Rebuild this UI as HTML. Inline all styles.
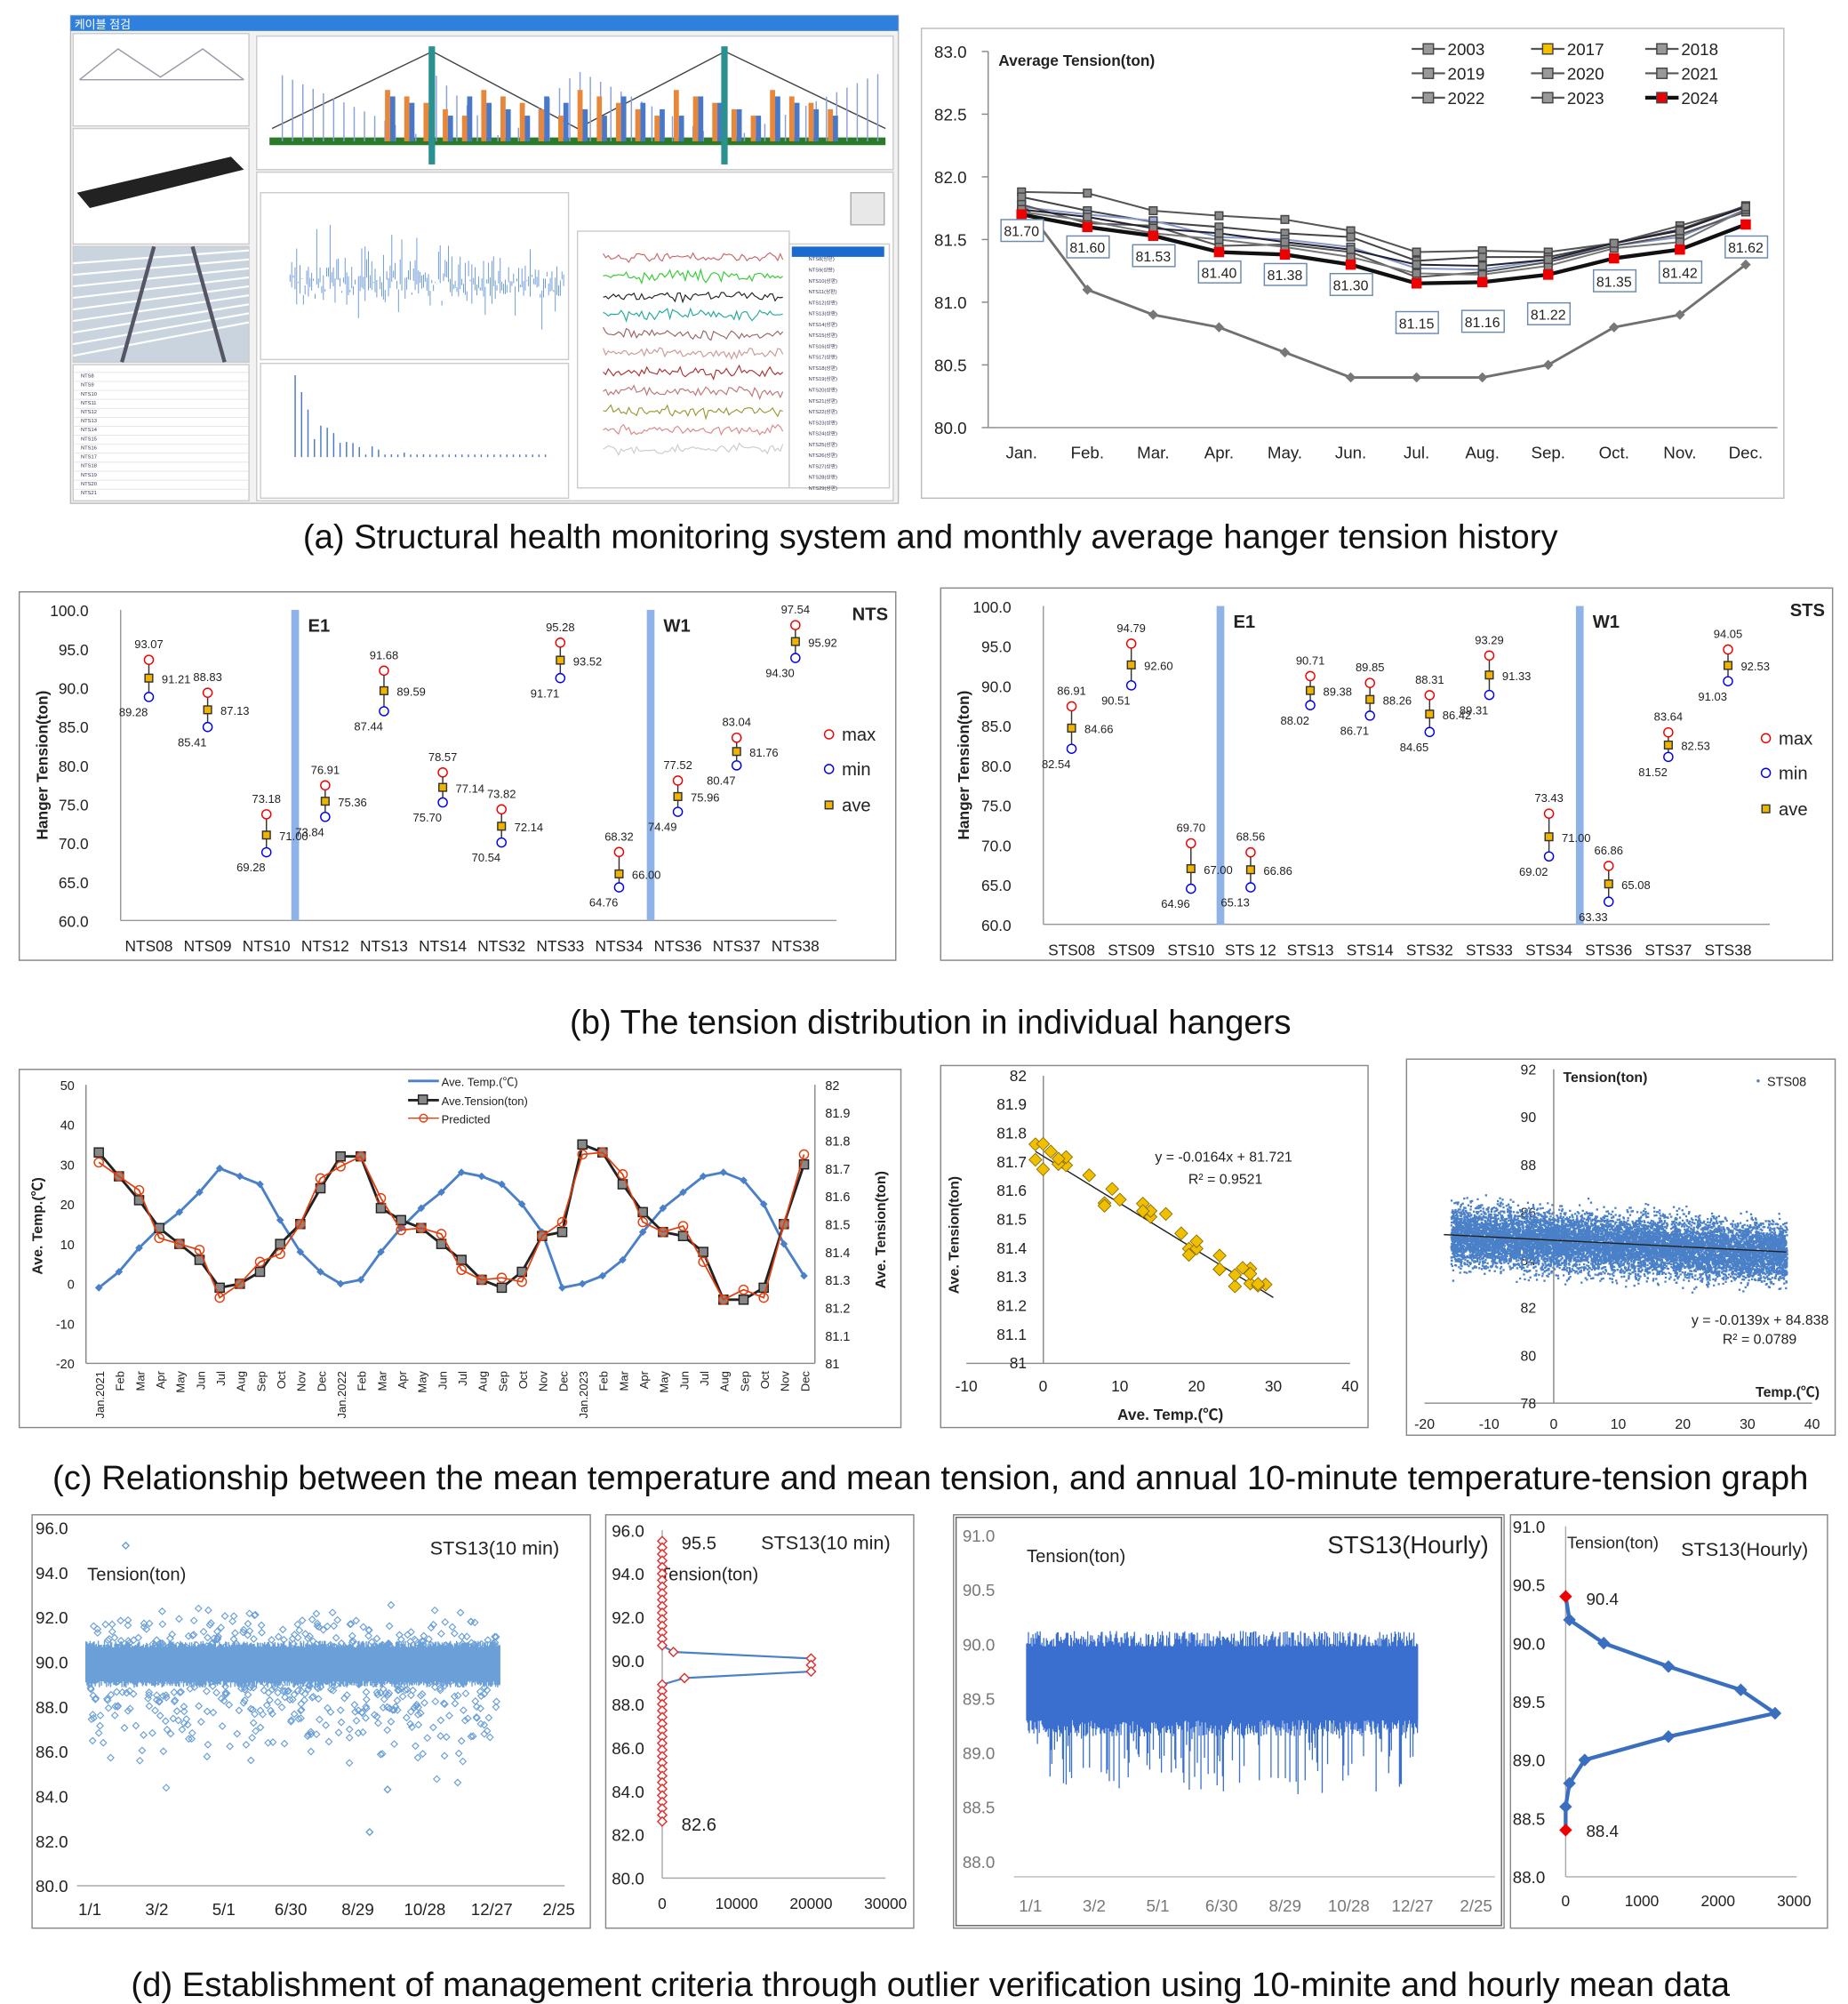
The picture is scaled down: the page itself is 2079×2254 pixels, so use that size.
<!DOCTYPE html>
<html><head><meta charset="utf-8"><style>
html,body{margin:0;padding:0;background:#fff;}
svg{display:block;font-family:"Liberation Sans","Noto Sans CJK KR",sans-serif;}
</style></head><body>
<svg id="s" width="2079" height="2254" viewBox="0 0 1440 1561" xmlns="http://www.w3.org/2000/svg">
<rect width="1440" height="1561" fill="#fff"/>
</svg>
<script>
const S=document.getElementById('s');const NS='http://www.w3.org/2000/svg';
function E(t,a,txt){const e=document.createElementNS(NS,t);for(const k in a)e.setAttribute(k,a[k]);if(txt!==undefined)e.textContent=txt;S.appendChild(e);return e;}
function T(x,y,s,sz,o){o=o||{};return E('text',Object.assign({x:x,y:y,'font-size':sz||12,fill:'#222'},o),s);}
function L(x1,y1,x2,y2,c,w,o){return E('line',Object.assign({x1,y1,x2,y2,stroke:c||'#444','stroke-width':w||1},o||{}));}
function R(x,y,w,h,f,s,o){return E('rect',Object.assign({x,y,width:w,height:h,fill:f||'none',stroke:s||'none'},o||{}));}
function P(pts,c,w,o){return E('polyline',Object.assign({points:pts.map(p=>p.join(',')).join(' '),fill:'none',stroke:c,'stroke-width':w||1},o||{}));}
let seed=7;function rnd(){seed=(seed*16807)%2147483647;return seed/2147483647;}
function gauss(){return (rnd()+rnd()+rnd()+rnd()-2)/0.58;}

/* ===== (a) left screenshot ===== */
R(55,12,645,380,'#f2f2f2','#bbb');
R(55,12,645,12,'#2f7fdc');T(58,22,'케이블 점검',9,{fill:'#fff'});
R(57,26,137,72,'#fff','#ccc');R(57,100,137,90,'#fff','#ccc');R(57,192,137,90,'#c9d4de','#ccc');
P([[62,62],[92,38],[125,60],[158,38],[190,62]],'#99a',1);L(62,62,190,62,'#99a',1);
for(let i=0;i<9;i++)L(57,205+i*9,194,195+i*7,'#fff',1.5);
L(120,192,95,282,'#556',3);L(150,192,175,282,'#556',3);
E('polygon',{points:'60,150 180,122 190,132 70,162',fill:'#222'});
R(57,284,137,106,'#fff','#ccc');
for(let i=0;i<14;i++){L(57,290+i*7,194,290+i*7,'#ddd',0.5);T(63,294+i*7,'NTS'+(8+i),4,{fill:'#335'});}
R(200,28,496,104,'#fff','#ccc');
L(210,110,690,110,'#2a7a2a',6);
P([[212,100],[337,40],[450,100],[565,40],[690,100]],'#444',1);
for(let x=220;x<690;x+=8){const h=(x<337?(337-x)/125:x<450?Math.abs(x-393)/57:x<565?(565-x)/115:(x-565)/125);L(x,110,x,110-55*h,'#8aa0d8',1);}
for(let i=0;i<24;i++){const x=300+i*15;if(x>335&&x<340)continue;R(x,70+(i%5)*5,4,40-(i%5)*5,'#e8873a');R(x+4,75+(i%4)*5,4,35-(i%4)*5,'#4a78c8');}
R(334,36,5,92,'#2a9090');R(562,36,5,92,'#2a9090');
R(200,134,496,256,'#fff','#ccc');
R(203,150,240,130,'#fff','#ccc');R(203,283,240,105,'#fff','#ccc');
for(let x=226;x<440;x+=1.3){const a=10+rnd()*22;L(x,215-a*gauss()*0.5,x,215+a*rnd()*0.8,'#5b8ed4',0.6);}
for(let i=0;i<40;i++){const x=230+i*5;L(x,356,x,356-Math.max(2,70*Math.exp(-i/6)*rnd()),'#4a78c8',1);}
R(450,180,165,200,'#fff','#ccc');R(615,190,78,190,'#fff','#ccc');R(617,192,72,8,'#1a6ad0');
const cc=['#c66','#3c3','#222','#2a9','#966','#c99','#a33','#b77','#993','#d88','#ccc'];
for(let k=0;k<11;k++){const pts=[];for(let x=470;x<612;x+=2)pts.push([x,200+k*15+gauss()*2]);P(pts,cc[k],0.8);}
for(let i=0;i<22;i++)T(630,203+i*8.5,'NTS'+(8+i)+'(상판)',4,{fill:'#335'});
R(663,150,26,25,'#e8e8e8','#aaa');

/* ===== (a) right chart ===== */
R(718,22,672,366,'#fff','#bbb');
L(770,40,770,333,'#888');L(770,333,1385,333,'#888');
const ay=v=>333-(v-80)/3*293, ax=i=>796+i*51.3;
for(let v=80;v<=83.01;v+=0.5){T(728,ay(v)+5,v.toFixed(1),13);L(765,ay(v),770,ay(v),'#888');}
['Jan.','Feb.','Mar.','Apr.','May.','Jun.','Jul.','Aug.','Sep.','Oct.','Nov.','Dec.'].forEach((m,i)=>T(ax(i),357,m,13,{'text-anchor':'middle'}));
T(778,51,'Average Tension(ton)',12,{'font-weight':'bold'});
const red=[81.70,81.60,81.53,81.40,81.38,81.30,81.15,81.16,81.22,81.35,81.42,81.62];
const gray=[81.8,81.1,80.9,80.8,80.6,80.4,80.4,80.4,80.5,80.8,80.9,81.3];
const offs=[[0.18,0.27,0.2,0.29,0.28,0.27,0.25,0.25,0.18,0.12,0.19,0.14],[0.14,0.13,0.11,0.2,0.17,0.22,0.18,0.2,0.14,0.12,0.16,0.15],[0.06,0.1,0.12,0.12,0.12,0.14,0.12,0.1,0.12,0.1,0.1,0.12],[0.08,0.03,0.08,0.05,0.08,0.1,0.05,0.08,0.1,0.1,0.12,0.1],[0.02,0.05,0.02,0.1,0.06,0.06,0.08,0.06,0.07,0.08,0.06,0.12],[0.04,0.08,0.06,0.15,0.1,0.12,0.15,0.13,0.12,0.12,0.15,0.14]];
const oc=['#555','#444','#8899cc','#555','#777','#223'];
P(gray.map((v,i)=>[ax(i),ay(v)]),'#707070',2);
gray.forEach((v,i)=>E('polygon',{points:`${ax(i)},${ay(v)-4} ${ax(i)+4},${ay(v)} ${ax(i)},${ay(v)+4} ${ax(i)-4},${ay(v)}`,fill:'#777'}));
offs.forEach((o,k)=>{const pts=red.map((v,i)=>[ax(i),ay(v+o[i])]);P(pts,oc[k],1.4);pts.forEach(p=>R(p[0]-3,p[1]-3,6,6,k==2?'#99aadd':'#888','#444'));});
P(red.map((v,i)=>[ax(i),ay(v)]),'#111',3);
red.forEach((v,i)=>{R(ax(i)-4,ay(v)-4,8,8,'#e00');const ly=ay(v)+(i==0?17:i<6?20:i<9?35:22);R(ax(i)-16,ly-13,33,17,'#fff','#6a8ab0');T(ax(i),ly,v.toFixed(2),11,{'text-anchor':'middle'});});
const lg=[['2003',1100,38],['2017',1193,38],['2018',1282,38],['2019',1100,57],['2020',1193,57],['2021',1282,57],['2022',1100,76],['2023',1193,76],['2024',1282,76]];
lg.forEach(([t,x,y],i)=>{L(x,y,x+26,y,i==8?'#111':'#555',i==8?3:1.5);R(x+9,y-4,8,8,i==8?'#e00':i==1?'#f5c000':'#999','#444');T(x+28,y+5,t,13);});

/* captions */
const cap=(y,s)=>T(725,y,s,26.5,{'text-anchor':'middle',fill:'#111'});
cap(427,'(a) Structural health monitoring system and monthly average hanger tension history');
cap(805,'(b) The tension distribution in individual hangers');
cap(1160,'(c) Relationship between the mean temperature and mean tension, and annual 10-minute temperature-tension graph');
cap(1555,'(d) Establishment of management criteria through outlier verification using 10-minite and hourly mean data');

/* ===== (b) ===== */
function hang(bx,by,bw,bh,x0,dx,y0,y1,names,data,bars,tag){
 R(bx,by,bw,bh,'#fff','#888');
 const yy=v=>y0-(v-60)/40*(y0-y1);
 L(x0-22,y1,x0-22,y0,'#999');L(x0-22,y0,x0+dx*11.7,y0,'#999');
 for(let v=60;v<=100;v+=5)T(x0-47,yy(v)+5,v.toFixed(1),12,{'text-anchor':'end'});
 T(bx+22,(y0+y1)/2,'Hanger Tension(ton)',12,{'font-weight':'bold',transform:`rotate(-90 ${bx+22} ${(y0+y1)/2})`,'text-anchor':'middle'});
 bars.forEach((b,i)=>{R(b-3,y1,6,y0-y1,'#8fb3e8');T(b+10,y1+17,i?'W1':'E1',14,{'font-weight':'bold'});});
 T(bx+bw-6,y1+8,tag,14,{'font-weight':'bold','text-anchor':'end'});
 names.forEach((n,i)=>{const x=x0+i*dx;T(x,y0+24,n,12,{'text-anchor':'middle'});
  const [mx,av,mn]=data[i];L(x,yy(mx),x,yy(mn),'#333');
  E('circle',{cx:x,cy:yy(mx)-3,r:3.5,fill:'#fff',stroke:'#e00'});E('circle',{cx:x,cy:yy(mn)+3,r:3.5,fill:'#fff',stroke:'#00e'});
  R(x-3,yy(av)-3,6,6,'#f0b400','#333');
  T(x,yy(mx)-12,mx.toFixed(2),9,{'text-anchor':'middle'});T(x+10,yy(av)+4,av.toFixed(2),9);T(x-12,yy(mn)+18,mn.toFixed(2),9,{'text-anchor':'middle'});});
 const lx=bx+bw-52;E('circle',{cx:lx,cy:y0-145,r:3.5,fill:'#fff',stroke:'#e00'});T(lx+10,y0-140,'max',14);
 E('circle',{cx:lx,cy:y0-118,r:3.5,fill:'#fff',stroke:'#00e'});T(lx+10,y0-113,'min',14);
 R(lx-3,y0-93,6,6,'#f0b400','#333');T(lx+10,y0-85,'ave',14);
}
hang(15,461,683,287,116,45.8,717,475,['NTS08','NTS09','NTS10','NTS12','NTS13','NTS14','NTS32','NTS33','NTS34','NTS36','NTS37','NTS38'],
[[93.07,91.21,89.28],[88.83,87.13,85.41],[73.18,71,69.28],[76.91,75.36,73.84],[91.68,89.59,87.44],[78.57,77.14,75.70],[73.82,72.14,70.54],[95.28,93.52,91.71],[68.32,66,64.76],[77.52,75.96,74.49],[83.04,81.76,80.47],[97.54,95.92,94.30]],[230,507],'NTS');
hang(733,458,695,290,835,46.5,720,472,['STS08','STS09','STS10','STS 12','STS13','STS14','STS32','STS33','STS34','STS36','STS37','STS38'],
[[86.91,84.66,82.54],[94.79,92.60,90.51],[69.70,67,64.96],[68.56,66.86,65.13],[90.71,89.38,88.02],[89.85,88.26,86.71],[88.31,86.42,84.65],[93.29,91.33,89.31],[73.43,71,69.02],[66.86,65.08,63.33],[83.64,82.53,81.52],[94.05,92.53,91.03]],[951,1231],'STS');

/* ===== (c1) ===== */
R(15,833,687,279,'#fff','#888');
const cy=v=>1062-(v+20)/70*217, cx=i=>77+i*15.7;
L(67,845,67,1062,'#888');L(635,845,635,1062,'#888');L(67,1062,635,1062,'#888');
for(let v=-20;v<=50;v+=10)T(58,cy(v)+4,v,10,{'text-anchor':'end'});
for(let k=0;k<=10;k++)T(643,1062-k*21.7+4,(81+k*0.1).toFixed(k%10?1:0),10);
T(33,955,'Ave. Temp.(℃)',11,{'font-weight':'bold',transform:'rotate(-90 33 955)','text-anchor':'middle'});
T(690,958,'Ave. Tension(ton)',11,{'font-weight':'bold',transform:'rotate(-90 690 958)','text-anchor':'middle'});
const mo=['Jan.2021','Feb','Mar','Apr','May','Jun','Jul','Aug','Sep','Oct','Nov','Dec'];
for(let i=0;i<36;i++){let m=mo[i%12];if(i==12)m='Jan.2022';if(i==24)m='Jan.2023';T(cx(i)+4,1068,m,9,{transform:`rotate(-90 ${cx(i)+4} 1068)`,'text-anchor':'end'});}
const temp=[-1,3,9,14,18,23,29,27,25,16,8,3,0,1,8,14,19,23,28,27,25,20,13,-1,0,2,6,13,19,23,27,28,26,20,10,2];
const ten=[33,27,21,14,10,6,-1,0,3,10,15,24,32,32,19,16,14,10,6,1,-1,3,12,13,35,33,25,18,13,12,8,-4,-4,-1,15,30];
const pre=ten.map((v,i)=>v+(i%3-1)*2.5);
P(temp.map((v,i)=>[cx(i),cy(v)]),'#4a80c8',2);temp.forEach((v,i)=>E('polygon',{points:`${cx(i)},${cy(v)-3} ${cx(i)+3},${cy(v)} ${cx(i)},${cy(v)+3} ${cx(i)-3},${cy(v)}`,fill:'#4a80c8'}));
P(ten.map((v,i)=>[cx(i),cy(v)]),'#222',2);ten.forEach((v,i)=>R(cx(i)-3.5,cy(v)-3.5,7,7,'#888','#222'));
P(pre.map((v,i)=>[cx(i),cy(v)]),'#e04010',1.2);pre.forEach((v,i)=>E('circle',{cx:cx(i),cy:cy(v),r:3.5,fill:'none',stroke:'#e04010'}));
L(318,842,342,842,'#4a80c8',2);T(344,846,'Ave. Temp.(℃)',9);
L(318,857,342,857,'#222',2);R(326,853,7,7,'#888','#222');T(344,861,'Ave.Tension(ton)',9);
L(318,871,342,871,'#e04010',1);E('circle',{cx:330,cy:871,r:3,fill:'none',stroke:'#e04010'});T(344,875,'Predicted',9);

/* ===== (c2) ===== */
R(733,830,333,282,'#fff','#888');
const sx=v=>753+(v+10)/50*299, sy=v=>1062-(v-81)*224;
L(813,838,813,1062,'#888');L(753,1062,1052,1062,'#888');
for(let k=0;k<=10;k++)T(800,sy(81+k*0.1)+4,(81+k*0.1).toFixed(k%10?1:0),12,{'text-anchor':'end'});
for(let v=-10;v<=40;v+=10)T(sx(v),1084,v,12,{'text-anchor':'middle'});
T(912,1106,'Ave. Temp.(℃)',12,{'font-weight':'bold','text-anchor':'middle'});
T(747,962,'Ave. Tension(ton)',11,{'font-weight':'bold',transform:'rotate(-90 747 962)','text-anchor':'middle'});
L(sx(-1),sy(81.737),sx(30),sy(81.229),'#222',1);
temp.forEach((t,i)=>{const v=81.721-0.0164*t+(ten[i]-pre[i])*0.004+gauss()*0.03;E('polygon',{points:`${sx(t)},${sy(v)-5} ${sx(t)+5},${sy(v)} ${sx(t)},${sy(v)+5} ${sx(t)-5},${sy(v)}`,fill:'#f0c000',stroke:'#8a6a00','stroke-width':0.6});});
T(900,905,'y = -0.0164x + 81.721',11);T(926,922,'R² = 0.9521',11);

/* ===== (c3) ===== */
R(1096,825,334,293,'#fff','#888');
const tx=v=>1110+(v+20)/60*302, ty=v=>1093-(v-78)/14*260;
L(tx(0),833,tx(0),1093,'#888');L(1110,1093,1412,1093,'#888');
for(let v=78;v<=92;v+=2)T(1197,ty(v)+4,v,11,{'text-anchor':'end'});
for(let v=-20;v<=40;v+=10)T(tx(v),1113,v,11,{'text-anchor':'middle'});
T(1218,843,'Tension(ton)',11,{'font-weight':'bold'});T(1368,1088,'Temp.(℃)',11,{'font-weight':'bold'});
E('circle',{cx:1370,cy:842,r:1.2,fill:'#4a80c8'});T(1377,846,'STS08',10);
let d='';for(let i=0;i<11000;i++){const t=-16+rnd()*52;const v=84.838-0.0139*t+gauss()*0.6;const x=tx(t),y=ty(v);d+=`M${x.toFixed(1)} ${y.toFixed(1)}h1.6v1.6h-1.6z`;}
E('path',{d:d,fill:'#4a80c8'});
L(tx(-17),ty(85.07),tx(36),ty(84.34),'#222',1);
T(1425,1032,'y = -0.0139x + 84.838',11,{'text-anchor':'end'});T(1400,1047,'R² = 0.0789',11,{'text-anchor':'end'});

/* ===== (d1) ===== */
R(25,1180,435,322,'#fff','#888');
const dy=v=>1469-(v-80)/16*279;
for(let v=80;v<=96;v+=2)T(53,dy(v)+5,v.toFixed(1),13,{'text-anchor':'end'});
['1/1','3/2','5/1','6/30','8/29','10/28','12/27','2/25'].forEach((s,i)=>T(70+i*52.2,1492,s,13,{'text-anchor':'middle'}));
L(60,1469,440,1469,'#aaa');
T(68,1231,'Tension(ton)',14);T(335,1211,'STS13(10  min)',15);
d='';for(let x=67;x<390;x+=0.8){const a=dy(89.9+0.75+rnd()*0.3),b=dy(89.9-0.75-rnd()*0.3);d+=`M${x} ${a}V${b}`;}
E('path',{d:d,stroke:'#6a9fd8','stroke-width':1});
let od='';for(let i=0;i<500;i++){const x=70+rnd()*318;const up=rnd()<0.35;const v=up?90.6+Math.abs(gauss())*0.7:89.2-Math.abs(gauss())*1.6;const y=dy(v);od+=`M${x} ${y-2.5}l2.5 2.5l-2.5 2.5l-2.5-2.5z`;}
E('path',{d:od,fill:'none',stroke:'#6a9fd8','stroke-width':0.8});
[[98,95.2],[288,82.4],[302,84.3],[367,91.8]].forEach(([x,v])=>E('path',{d:`M${x} ${dy(v)-2.5}l2.5 2.5l-2.5 2.5l-2.5-2.5z`,fill:'none',stroke:'#6a9fd8'}));

/* ===== (d2) ===== */
R(472,1180,240,322,'#fff','#888');
const ey=v=>1463-(v-80)/16*271, ex=v=>516+v/30000*174;
L(516,1192,516,1463,'#aaa');L(516,1463,690,1463,'#aaa');
for(let v=80;v<=96;v+=2)T(502,ey(v)+5,v.toFixed(1),13,{'text-anchor':'end'});
[0,10000,20000,30000].forEach(v=>T(ex(v),1487,v,12,{'text-anchor':'middle'}));
T(514,1231,'Tension(ton)',14);T(593,1207,'STS13(10  min)',15);
const hp=[];for(let v=95.5;v>=82.59;v-=0.3){let c=0;if(Math.abs(v-89.8)<0.35)c=20000;else if(Math.abs(v-89.5)<0.2)c=16000;else if(Math.abs(v-90.1)<0.2)c=10000;else if(Math.abs(v-89.2)<0.2)c=3000;else if(Math.abs(v-90.4)<0.2)c=1500;hp.push([ex(c),ey(v)]);}
P(hp,'#4a80c8',1.5);hp.forEach(p=>E('path',{d:`M${p[0]} ${p[1]-3.5}l3.5 3.5l-3.5 3.5l-3.5-3.5z`,fill:'#fff',stroke:'#e03030'}));
T(531,1207,'95.5',14);T(531,1426,'82.6',14);

/* ===== (d3) ===== */
R(743,1180,429,322,'#fff','#888');R(745,1182,425,318,'none','#666');
const fy=v=>1450-(v-88)/3*254;
for(let v=88;v<=91.01;v+=0.5)T(750,fy(v)+5,v.toFixed(1),13,{fill:'#777'});
['1/1','3/2','5/1','6/30','8/29','10/28','12/27','2/25'].forEach((s,i)=>T(803+i*49.6,1489,s,13,{'text-anchor':'middle',fill:'#777'}));
L(790,1462,1165,1462,'#bbb');
T(800,1217,'Tension(ton)',14);T(1160,1210,'STS13(Hourly)',19,{'text-anchor':'end'});
R(800,fy(89.98),305,fy(89.3)-fy(89.98),'#3a6fd0');
d='';for(let x=800;x<1105;x+=0.7){const a=fy(89.95+rnd()*0.17),b=fy(89.3-rnd()*0.15-(rnd()<0.3?rnd()*0.55:0));d+=`M${x} ${a}V${b}`;}
E('path',{d:d,stroke:'#3a6fd0','stroke-width':0.9});

/* ===== (d4) ===== */
R(1177,1180,247,322,'#fff','#888');
const gy=v=>1462-(v-88)/3*273, gx=v=>1220+v/3000*178;
L(1220,1189,1220,1462,'#aaa');L(1220,1462,1400,1462,'#aaa');
for(let v=88;v<=91.01;v+=0.5)T(1204,gy(v)+5,v.toFixed(1),13,{'text-anchor':'end'});
[0,1000,2000,3000].forEach(v=>T(gx(v),1485,v,12,{'text-anchor':'middle'}));
T(1221,1206,'Tension(ton)',13);T(1409,1212,'STS13(Hourly)',15,{'text-anchor':'end'});
const gp=[[0,90.4],[50,90.2],[500,90.0],[1350,89.8],[2300,89.6],[2750,89.4],[1350,89.2],[250,89.0],[50,88.8],[0,88.6],[0,88.4]];
P(gp.map(p=>[gx(p[0]),gy(p[1])]),'#3a6fc0',3);
gp.forEach((p,i)=>{const x=gx(p[0]),y=gy(p[1]);E('path',{d:`M${x} ${y-5}l5 5l-5 5l-5-5z`,fill:(i==0||i==10)?'#e00':'#3a6fc0'});});
T(1236,1250,'90.4',13);T(1236,1431,'88.4',13);
</script>
</body></html>
